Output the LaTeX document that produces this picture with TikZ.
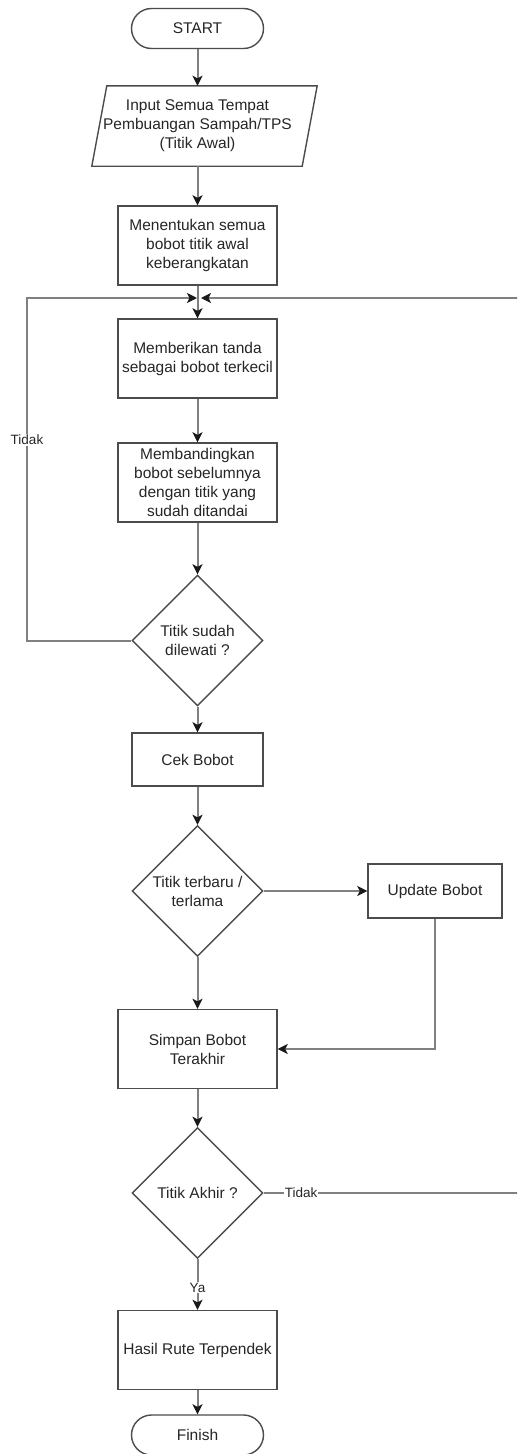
\documentclass[tikz,border=0pt]{standalone}
\usepackage{fontspec}
\setmainfont{Liberation Sans}
\usetikzlibrary{arrows.meta,shapes.geometric,calc}

\begin{document}
\begin{tikzpicture}[x=1pt,y=-1pt,
  every node/.style={font=\fontsize{15.5}{19}\selectfont, text=black!85, inner sep=0pt},
  box/.style={draw=black!70, line width=1.4pt, minimum width=159pt, minimum height=79pt, align=center},
  smallbox/.style={draw=black!70, line width=1.4pt, minimum width=131pt, minimum height=53pt, align=center},
  term/.style={draw=black!70, line width=1.4pt, rounded corners=20pt, minimum width=132pt, minimum height=40pt},
  dec/.style={draw=black!70, line width=1.4pt, diamond, aspect=1, minimum width=131pt, minimum height=131pt},
  flow/.style={draw=black!50, line width=2pt, -{Stealth[length=10pt,width=10pt,inset=2.5pt,color=black!90]}},
  lbl/.style={fill=white, font=\fontsize{13.5}{16}\selectfont, inner sep=1pt}
]
\useasboundingbox (0,0) rectangle (517,1454);
\fill[white] (0,0) rectangle (517,1454);
\clip (0,0) rectangle (517,1454);

% main column
\node[term] (start) at (197.5,28.5) {START};
\node[minimum width=200pt, minimum height=80pt, align=center] (inp) at (197.5,126)
  {Input Semua Tempat\\Pembuangan Sampah/TPS\\(Titik Awal)};
\draw[draw=black!70, line width=1.4pt]
  ($(inp.north west)+(9.5,0)$) -- ($(inp.north east)+(19.5,0)$) --
  ($(inp.south east)+(4.5,0)$) -- ($(inp.south west)+(-5.5,0)$) -- cycle;
\node[box] (init) at (197.5,245.5) {Menentukan semua\\bobot titik awal\\keberangkatan};
\node[box] (mark) at (197.5,358.5) {Memberikan tanda\\sebagai bobot terkecil};
\node[box] (cmp) at (197.5,482.5) {Membandingkan\\bobot sebelumnya\\dengan titik yang\\sudah ditandai};
\node[dec, label={[align=center]center:Titik sudah\\dilewati ?}] (d1) at (197.5,640.5) {};
\node[smallbox] (cek) at (197.5,759.5) {Cek Bobot};
\node[dec, label={[align=center]center:Titik terbaru /\\terlama}] (d2) at (197.5,891) {};
\node[draw=black!70, line width=1.4pt, minimum width=134pt, minimum height=54pt] (upd) at (435,891) {Update Bobot};
\node[box] (save) at (197.5,1049) {Simpan Bobot\\Terakhir};
\node[dec, label={[align=center]center:Titik Akhir ?}] (d3) at (197.5,1193) {};
\node[box] (res) at (197.5,1350) {Hasil Rute Terpendek};
\node[term] (fin) at (197.5,1435) {Finish};

% loop junction and return paths
\coordinate (jl) at (197,298);
\coordinate (jr) at (201,298);
\coordinate (lb) at (27,640.5);
\coordinate (lt) at (27,298);
\coordinate (rb) at (521,1193);
\coordinate (rt) at (521,298);

% connectors
\draw[flow] (start) -- (inp);
\draw[flow] (inp) -- (init);
\draw[flow] (init) -- (mark);
\draw[flow] (mark) -- (cmp);
\draw[flow] (cmp) -- (d1);
\draw[flow] (d1.west) -- (lb) -- node[lbl, pos=0.585] {Tidak} (lt) -- (jl);
\draw[flow] (d1) -- (cek);
\draw[flow] (cek) -- (d2);
\draw[flow] (d2.east) -- (upd.west);
\draw[flow] (d2) -- (save);
\draw[flow] (upd.south) |- (save.east);
\draw[flow] (save) -- (d3);
\draw[flow] (d3.east) -- node[lbl, pos=0.145] {Tidak} (rb) -- (rt) -- (jr);
\draw[flow] (d3) -- node[lbl, pos=0.56] {Ya} (res);
\draw[flow] (res) -- (fin);
\end{tikzpicture}
\end{document}
